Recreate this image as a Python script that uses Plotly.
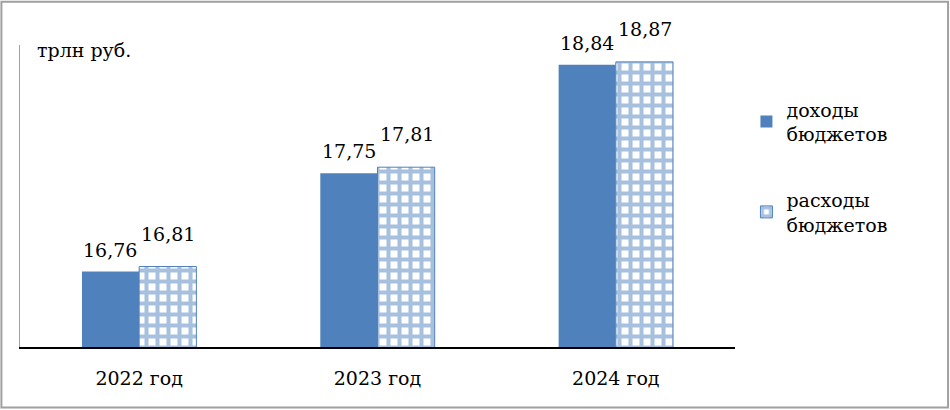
import plotly.graph_objects as go

years = ["2022 год", "2023 год", "2024 год"]
income = [16.76, 17.75, 18.84]
expenses = [16.81, 17.81, 18.87]
series_names = ["доходы<br>бюджетов", "расходы<br>бюджетов"]

BLUE = "#4F81BD"
FONT = "DejaVu Serif"


def fmt(v):
    return f"{v:.2f}".replace(".", ",")


fig = go.Figure()
fig.add_bar(x=years, y=income, name=series_names[0], legendgroup="a",
            marker=dict(color=BLUE, line=dict(width=0)))
fig.add_bar(x=years, y=expenses, name=series_names[1], legendgroup="b",
            marker=dict(color="white", line=dict(color=BLUE, width=1),
                        pattern=dict(shape="+", fgcolor=BLUE, bgcolor="white",
                                     size=11, solidity=0.6)))

# value labels above the bars
for vals, shift, lift in [(income, -29, 9), (expenses, 29, 20)]:
    for yr, v in zip(years, vals):
        fig.add_annotation(x=yr, y=v, text=fmt(v), showarrow=False,
                           xshift=shift, yshift=lift, yanchor="bottom",
                           font=dict(family=FONT, size=19, color="black"))

fig.add_annotation(xref="paper", yref="paper", x=0.021, y=0.985, xanchor="left",
                   yanchor="middle", text="трлн руб.", showarrow=False,
                   font=dict(family=FONT, size=19, color="black"))

# outer frame
fig.add_shape(type="rect", xref="paper", yref="paper", x0=-0.026, x1=1.298,
              y0=-0.2, y1=1.143, line=dict(color="#A0A0A0", width=2))

fig.update_layout(
    width=950, height=410,
    margin=dict(l=20, r=215, t=45, b=63),
    plot_bgcolor="white", paper_bgcolor="white",
    barmode="group", bargap=0.52, bargroupgap=0,
    font=dict(family=FONT, size=19, color="black"),
    legend=dict(x=1.016, y=0.85, xanchor="left", yanchor="top",
                tracegroupgap=38, font=dict(family=FONT, size=19),
                itemwidth=30),
)
fig.update_xaxes(showline=True, linecolor="black", linewidth=1.5,
                 ticks="", ticklabelstandoff=13,
                 tickfont=dict(family=FONT, size=19))
fig.update_yaxes(range=[16, 19.04], showline=True, linecolor="#8EA4C2",
                 showgrid=False, showticklabels=False, ticks="", zeroline=False)

fig.write_html("out.html", config={"displayModeBar": False},
               post_script="document.body.style.margin='0';document.body.style.overflow='hidden';")
